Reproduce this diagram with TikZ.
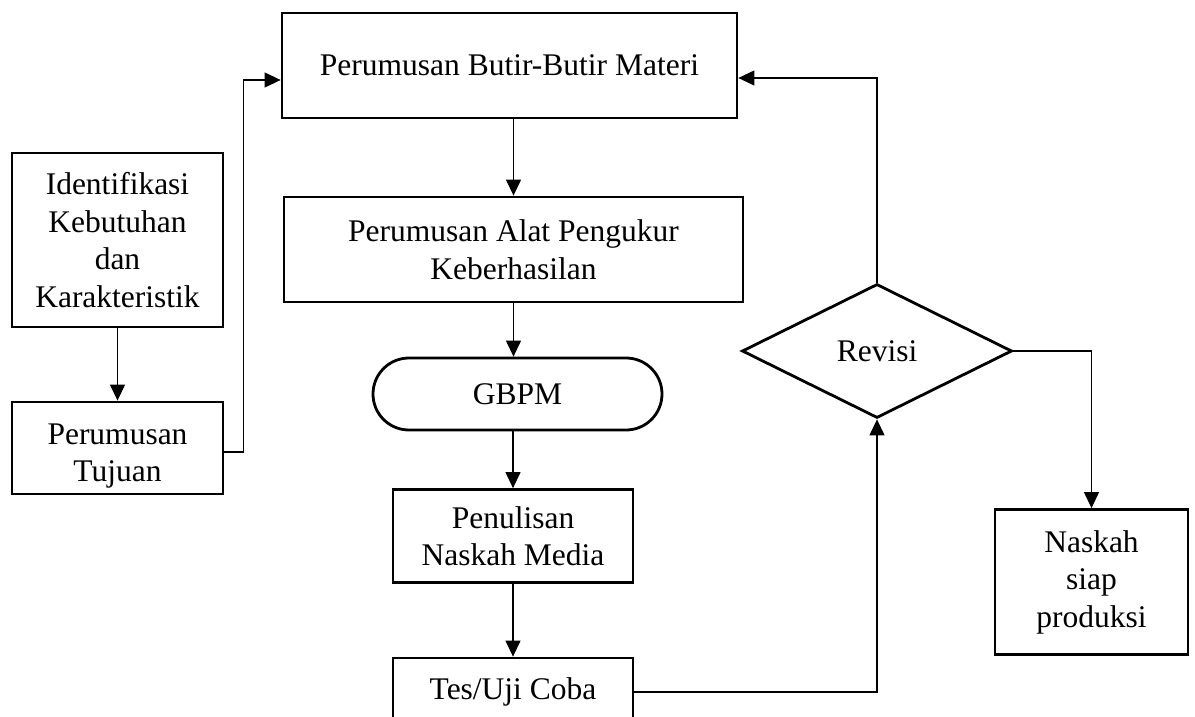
\documentclass[tikz,border=0pt]{standalone}
\usepackage{fontspec}
\setmainfont{Liberation Serif}
\usetikzlibrary{arrows.meta,shapes.geometric,calc}
\begin{document}
\begin{tikzpicture}[x=1pt,y=-1pt,
  every node/.style={font=\fontsize{31.5}{37.5}\selectfont},
  box/.style={draw,line width=2.8pt,inner sep=0pt,align=center},
  arr/.style={line width=1.2pt,-{Triangle[length=16pt,width=15pt]}}]
\useasboundingbox (0,0) rectangle (1195,717);
\clip (0,0) rectangle (1195,717);

% main column
\node[box,minimum width=455pt,minimum height=105pt] (top) at (509.5,65.5) {Perumusan Butir-Butir Materi};
\node[box,minimum width=459pt,minimum height=105pt] (alat) at (513.5,249.5) {Perumusan Alat Pengukur\\Keberhasilan};
\node[box,minimum width=289pt,minimum height=72pt,rounded corners=36pt] (gbpm) at (517.5,394) {GBPM};
\node[box,minimum width=240pt,minimum height=93pt] (pen) at (513,536) {Penulisan\\Naskah Media};
\node[box,minimum width=240pt,minimum height=68pt] (tes) at (513,692) {Tes/Uji Coba};

% left column
\node[box,minimum width=211pt,minimum height=174pt] (idk) at (117.5,240) {Identifikasi\\Kebutuhan\\dan\\Karakteristik};
\node[box,minimum width=211pt,minimum height=92pt] (tuj) at (117.5,448) {};
\path (tuj.center) ++(0,8) node[align=center,inner sep=0pt] (tujtext) {Perumusan\\Tujuan};

% right side
\node[box,shape=diamond,minimum width=270pt,minimum height=134pt] (rev) at (877,351) {Revisi};
\node[box,minimum width=193pt,minimum height=145pt] (nas) at (1091.5,582) {Naskah\\siap\\produksi};

% connectors
\draw[arr] (alat.north |- top.south) -- (alat.north);
\draw[arr] (alat.south) -- (alat.south |- gbpm.north);
\draw[arr] (pen.north |- gbpm.south) -- (pen.north);
\draw[arr] (pen.south) -- (tes.north);
\draw[arr] (tes.east) -| (rev.south);
\draw[arr] (rev.north) |- ($(top.east)+(0,12.5)$);
\draw[arr] (rev.east) -| (nas.north);
\draw[arr] (idk.south) -- (tuj.north);
\draw[arr] ($(tuj.east)+(0,4)$) -- ++(19,0) |- ($(top.west)+(0,14.5)$);
\end{tikzpicture}
\end{document}
